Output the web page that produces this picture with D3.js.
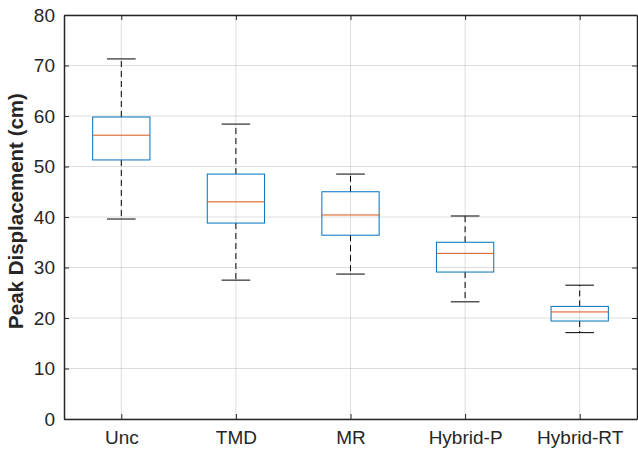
<!DOCTYPE html>
<html>
<head>
<meta charset="utf-8">
<script src="https://cdn.jsdelivr.net/npm/d3@7"></script>
<style>
  body { margin: 0; background: #fff; }
  text { font-family: "Liberation Sans", Arial, sans-serif; }
</style>
</head>
<body>
<div id="chart"></div>
<script>
// data
const categories = ["Unc", "TMD", "MR", "Hybrid-P", "Hybrid-RT"];
const whiskerLow = [39.6, 27.5, 28.7, 23.2, 17.1];
const q1 = [51.3, 38.8, 36.4, 29.1, 19.4];
const median = [56.2, 43.0, 40.4, 32.8, 21.2];
const q3 = [59.8, 48.5, 45.0, 35.0, 22.3];
const whiskerHigh = [71.3, 58.4, 48.5, 40.2, 26.5];
const yTicks = [0, 10, 20, 30, 40, 50, 60, 70, 80];

let margin = { top: 15, right: 1, bottom: 31, left: 64 },
    width = 638 - margin.left - margin.right,
    height = 450 - margin.top - margin.bottom;

const svg = d3.select("#chart")
    .append("svg")
    .attr("width", 638)
    .attr("height", 450)
    .append("g")
    .attr("transform", `translate(${margin.left},${margin.top})`);

const x = d3.scaleLinear().domain([0.5, categories.length + 0.5]).range([0, width]);
const y = d3.scaleLinear().domain([0, 80]).range([height, 0]);

const boxes = categories.map((c, i) => ({
    name: c, pos: i + 1,
    lo: whiskerLow[i], q1: q1[i], med: median[i], q3: q3[i], hi: whiskerHigh[i]
}));

// grid
svg.append("g").selectAll("line")
    .data(yTicks)
    .enter().append("line")
    .attr("x1", 0).attr("x2", width)
    .attr("y1", d => y(d)).attr("y2", d => y(d))
    .attr("stroke", "#262626").attr("stroke-opacity", 0.15);

svg.append("g").selectAll("line")
    .data(boxes)
    .enter().append("line")
    .attr("x1", d => x(d.pos)).attr("x2", d => x(d.pos))
    .attr("y1", 0).attr("y2", height)
    .attr("stroke", "#262626").attr("stroke-opacity", 0.15);

const boxW = 0.5, capW = 0.25;
const g = svg.append("g").selectAll("g").data(boxes).enter().append("g");

// whiskers
g.append("line")
    .attr("x1", d => x(d.pos)).attr("x2", d => x(d.pos))
    .attr("y1", d => y(d.q3)).attr("y2", d => y(d.hi))
    .attr("stroke", "#000").attr("stroke-dasharray", "6,4");
g.append("line")
    .attr("x1", d => x(d.pos)).attr("x2", d => x(d.pos))
    .attr("y1", d => y(d.q1)).attr("y2", d => y(d.lo))
    .attr("stroke", "#000").attr("stroke-dasharray", "6,4");

// caps
["hi", "lo"].forEach(k => {
    g.append("line")
        .attr("x1", d => x(d.pos - capW / 2)).attr("x2", d => x(d.pos + capW / 2))
        .attr("y1", d => y(d[k])).attr("y2", d => y(d[k]))
        .attr("stroke", "#000");
});

// box
g.append("rect")
    .attr("x", d => x(d.pos - boxW / 2))
    .attr("width", x(1 + boxW) - x(1))
    .attr("y", d => y(d.q3))
    .attr("height", d => y(d.q1) - y(d.q3))
    .attr("fill", "none")
    .attr("stroke", "#0072BD");

// median
g.append("line")
    .attr("x1", d => x(d.pos - boxW / 2)).attr("x2", d => x(d.pos + boxW / 2))
    .attr("y1", d => y(d.med)).attr("y2", d => y(d.med))
    .attr("stroke", "#D95319");

// axes
const yAxis = svg.append("g")
    .call(d3.axisLeft(y).tickValues(yTicks).tickSizeInner(-5).tickSizeOuter(0).tickPadding(9));
const yAxisR = svg.append("g")
    .attr("transform", `translate(${width},0)`)
    .call(d3.axisRight(y).tickValues(yTicks).tickSizeInner(-5).tickSizeOuter(0).tickFormat(""));
const xAxis = svg.append("g")
    .attr("transform", `translate(0,${height})`)
    .call(d3.axisBottom(x).tickValues(boxes.map(d => d.pos))
        .tickFormat((d, i) => categories[i]).tickSizeInner(-5).tickSizeOuter(0).tickPadding(11.5));
const xAxisT = svg.append("g")
    .call(d3.axisTop(x).tickValues(boxes.map(d => d.pos)).tickSizeInner(-5).tickSizeOuter(0).tickFormat(""));

[yAxis, yAxisR, xAxis, xAxisT].forEach(a => {
    a.selectAll("path, line").attr("stroke", "#262626");
    a.select(".domain").attr("stroke-width", 1.5);
    a.selectAll("text").attr("fill", "#262626").style("font-size", "19px")
        .style("font-family", "'Liberation Sans', Arial, sans-serif");
});

// axis label
svg.append("text")
    .attr("transform", `translate(-41,${211 - margin.top}) rotate(-90)`)
    .style("text-anchor", "middle")
    .style("font-size", "20.5px")
    .style("font-weight", "bold")
    .attr("fill", "#262626")
    .text("Peak Displacement (cm)");
</script>
</body>
</html>
